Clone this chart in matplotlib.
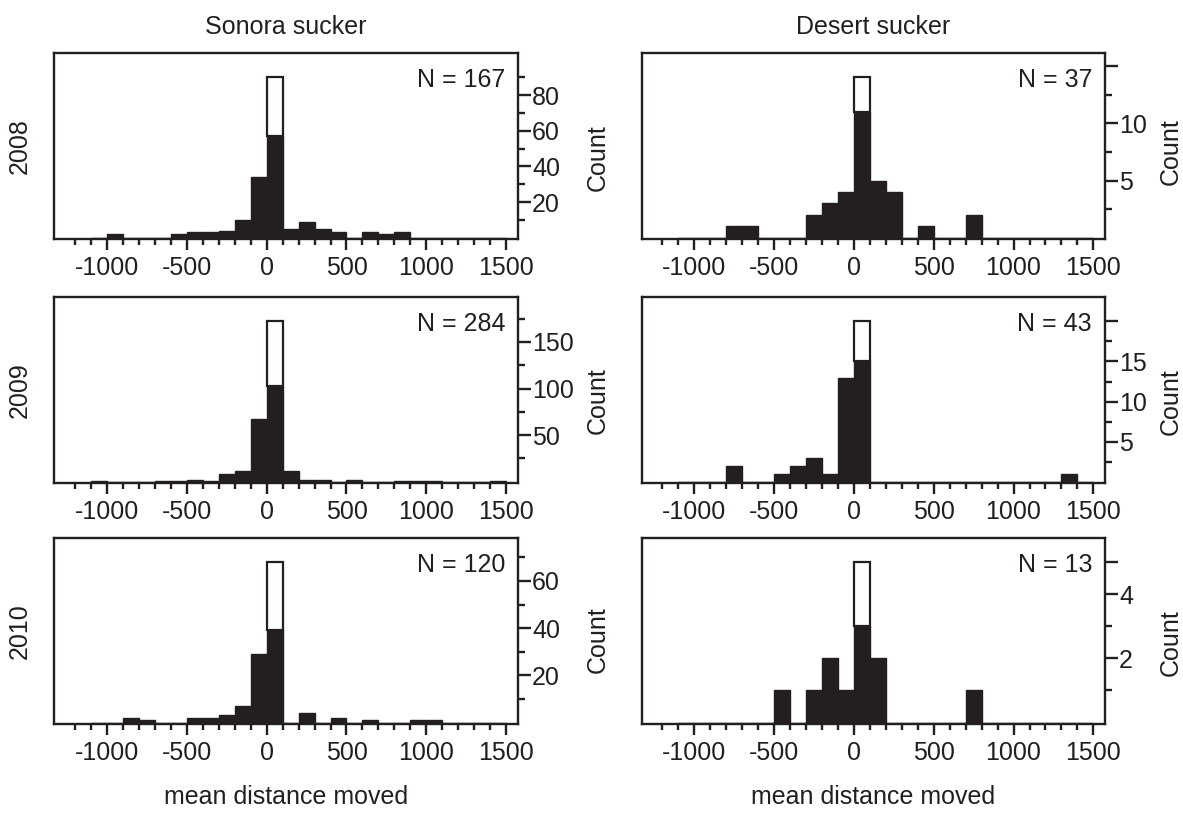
import matplotlib
matplotlib.use('Agg')
import matplotlib.pyplot as plt

plt.rcParams['font.family'] = ['Liberation Sans', 'DejaVu Sans']
plt.rcParams['axes.unicode_minus'] = False

DARK = '#231f20'
FS = 18

# ---------------- data ----------------
species = ['Sonora sucker', 'Desert sucker']
years = ['2008', '2009', '2010']
n_labels = [[167, 37], [284, 43], [120, 13]]

# left edges of the 100-unit bins
bin_left = [-1100, -1000, -900, -800, -700, -600, -500, -400, -300, -200, -100,
            0, 100, 200, 300, 400, 500, 600, 700, 800, 900, 1000, 1100, 1200, 1300, 1400]

# black (moved) counts per bin
sonora_2008 = [0, 2, 0, 0, 0, 2, 3, 3, 4, 10, 34, 57, 5, 9, 5, 3, 0, 3, 2, 3, 0, 0, 0, 0, 0, 0]
sonora_2009 = [1, 0, 0, 0, 1, 1, 2, 1, 8, 12, 67, 103, 12, 2, 2, 0, 2, 0, 0, 1, 1, 1, 0, 0, 0, 1]
sonora_2010 = [0, 0, 2, 1, 0, 0, 2, 2, 3, 7, 29, 39, 0, 4, 0, 2, 0, 1, 0, 0, 1, 1, 0, 0, 0, 0]
desert_2008 = [0, 0, 0, 1, 1, 0, 0, 0, 2, 3, 4, 11, 5, 4, 0, 1, 0, 0, 2, 0, 0, 0, 0, 0, 0, 0]
desert_2009 = [0, 0, 0, 2, 0, 0, 1, 2, 3, 1, 13, 15, 0, 0, 0, 0, 0, 0, 0, 0, 0, 0, 0, 0, 1, 0]
desert_2010 = [0, 0, 0, 0, 0, 0, 1, 0, 1, 2, 1, 3, 2, 0, 0, 0, 0, 0, 1, 0, 0, 0, 0, 0, 0, 0]

# total height of the 0-100 bin (black + white part)
sonora_zero_total = [90, 172, 68]
desert_zero_total = [14, 20, 5]

counts = [[sonora_2008, desert_2008], [sonora_2009, desert_2009], [sonora_2010, desert_2010]]
zero_total = [[sonora_zero_total[i], desert_zero_total[i]] for i in range(3)]

# y ticks
yt_major = [[[20, 40, 60, 80], [5, 10, 15]],
            [[50, 100, 150], [5, 10, 15, 20]],
            [[20, 40, 60], [2, 4, 5]]]
yt_labeled = [[[20, 40, 60, 80], [5, 10]],
              [[50, 100, 150], [5, 10, 15]],
              [[20, 40, 60], [2, 4]]]
yt_minor = [[[10, 30, 50, 70, 90], [2.5, 7.5, 12.5]],
            [[25, 75, 125, 175], [2.5, 7.5, 12.5, 17.5]],
            [[10, 30, 50, 70], [1, 3]]]

x_major = [-1000, -500, 0, 500, 1000, 1500]
x_minor = [-1200, -1100, -900, -800, -700, -600, -400, -300, -200, -100,
           100, 200, 300, 400, 600, 700, 800, 900, 1100, 1200, 1300, 1400]

# ---------------- layout ----------------
W, H = 1183, 814
fig = plt.figure(figsize=(W / 100, H / 100), dpi=100)

col_x = [(54, 518), (641.7, 1105)]
row_y = [(53.3, 239.3), (297.3, 483.3), (538, 724)]

for r in range(3):
    for c in range(2):
        x0, x1 = col_x[c]
        y0, y1 = row_y[r]
        ax = fig.add_axes([x0 / W, 1 - y1 / H, (x1 - x0) / W, (y1 - y0) / H])
        data = counts[r][c]
        tot = zero_total[r][c]
        ax.bar(bin_left, data, width=100, align='edge', color=DARK,
               edgecolor=DARK, linewidth=1.0, zorder=2)
        i0 = bin_left.index(0)
        ax.bar([0], [tot - data[i0]], bottom=[data[i0]], width=100, align='edge',
               facecolor='white', edgecolor=DARK, linewidth=1.6, zorder=2)
        top = tot * 1.15
        pad = top * 1.5 / 184.5
        ax.set_ylim(-pad, top)
        ax.set_xlim(-1330, 1573)

        for s in ax.spines.values():
            s.set_linewidth(1.7)
            s.set_color(DARK)

        ax.set_xticks(x_major)
        ax.set_xticklabels([str(v) for v in x_major])
        ax.set_xticks(x_minor, minor=True)
        ax.tick_params(axis='x', which='major', direction='out', length=8, width=1.7,
                       color=DARK, labelsize=FS, pad=4, labelcolor=DARK)
        ax.tick_params(axis='x', which='minor', direction='out', length=4.5, width=1.7,
                       color=DARK)

        ax.yaxis.tick_right()
        maj = yt_major[r][c]
        ax.set_yticks(maj)
        ax.set_yticklabels([str(v) if v in yt_labeled[r][c] else '' for v in maj])
        ax.set_yticks(yt_minor[r][c], minor=True)
        ax.tick_params(axis='y', which='major', direction='out', length=9, width=1.7,
                       color=DARK, labelsize=FS, pad=1, labelcolor=DARK,
                       left=False, right=True)
        ax.tick_params(axis='y', which='minor', direction='out', length=5, width=1.7,
                       color=DARK, left=False, right=True)

        ax.yaxis.set_label_position('right')
        ax.set_ylabel('Count', fontsize=FS, color=DARK, rotation=90)
        top_tick = max(maj + yt_minor[r][c])
        ylab_y = (top_tick / 2 + pad) / (top + pad)
        lab_x = 1.145 if c == 0 else 1.117
        ax.yaxis.set_label_coords(lab_x, ylab_y)

        ax.text(0.972, 0.819, 'N = %d' % n_labels[r][c], transform=ax.transAxes,
                ha='right', va='baseline', fontsize=FS, color=DARK)

        if c == 0:
            fig.text(20 / W, 1 - (y0 + y1) / 2 / H, years[r], rotation=90,
                     ha='center', va='center', fontsize=FS, color=DARK)
        if r == 0:
            fig.text((x0 + x1) / 2 / W, 1 - 27 / H, species[c], ha='center',
                     va='center', fontsize=FS, color=DARK)
        if r == 2:
            fig.text((x0 + x1) / 2 / W, 1 - 797 / H, 'mean distance moved',
                     ha='center', va='center', fontsize=FS, color=DARK)

fig.savefig('out.png', dpi=100)
